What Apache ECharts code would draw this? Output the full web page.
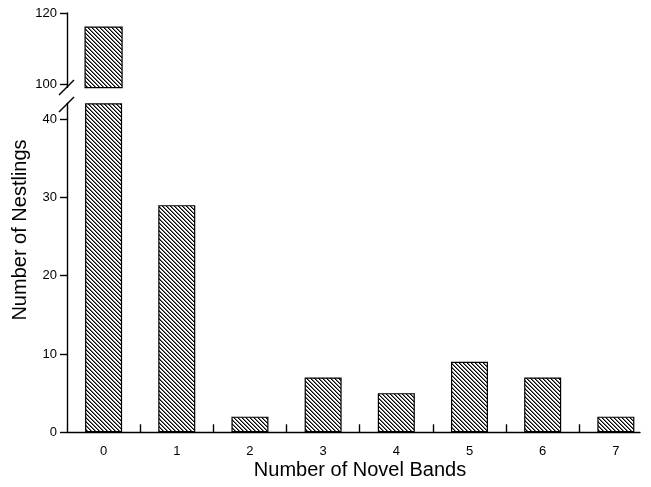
<!DOCTYPE html>
<html><head><meta charset="utf-8">
<script src="https://cdn.jsdelivr.net/npm/echarts@6/dist/echarts.min.js"></script>
<style>html,body{margin:0;padding:0;background:#fff}#c{width:651px;height:487px}</style>
</head><body><div id="c"></div>
<script>
const categories = ['0', '1', '2', '3', '4', '5', '6', '7'];
const nestlings = [116, 29, 2, 7, 5, 9, 7, 2];
const lowerTicks = [0, 10, 20, 30, 40];
const upperTicks = [100, 120];
const xTitle = 'Number of Novel Bands';
const yTitle = 'Number of Nestlings';

const breakLow = 42;   // top of lower axis segment
const breakHigh = 99;  // bottom of upper axis segment

const FONT = '"Liberation Sans", Arial, sans-serif';

// hatch pattern "\\\\"
const pc = document.createElement('canvas');
pc.width = 4; pc.height = 4;
const g = pc.getContext('2d');
g.fillStyle = '#fff'; g.fillRect(0, 0, 4, 4);
for (let i = 0; i < 4; i++) {
  g.fillStyle = '#000'; g.fillRect(i, i, 1, 1);
  g.fillStyle = '#777'; g.fillRect((i + 1) % 4, i, 1, 1);
}
const hatch = { image: pc, repeat: 'repeat' };

const xIdx = categories.map((c, i) => i);
const lowerData = nestlings.map((v, i) => [i, Math.min(v, breakLow)]);
const upperData = nestlings.map((v, i) => [i, v]).filter(d => d[1] > breakLow);
const betweenTicks = xIdx.slice(0, -1).map(i => i + 0.5);
const BAR_W = 37;

const barStyle = { color: hatch, borderColor: '#000', borderWidth: 1.2 };
const xCommon = {
  type: 'value', min: -0.5, max: 7.33,
  splitLine: { show: false }
};
const yCommon = {
  type: 'value',
  splitLine: { show: false },
  axisLine: { show: true, onZero: false, lineStyle: { color: '#000', width: 1.4 } },
  axisTick: { show: true, length: 7, lineStyle: { color: '#000', width: 1.4 } },
  axisLabel: { color: '#000', fontSize: 13, fontFamily: FONT, margin: 10 }
};

const chart = echarts.init(document.getElementById('c'), null, { renderer: 'canvas' });
chart.setOption({
  animation: false,
  backgroundColor: '#fff',
  grid: [
    { left: 67, right: 11, top: 103.3, bottom: 54.7 },
    { left: 67, right: 11, top: 13, bottom: 399.4 }
  ],
  xAxis: [
    Object.assign({}, xCommon, {
      gridIndex: 0,
      axisLine: { show: true, onZero: false, lineStyle: { color: '#000', width: 1.4 } },
      axisTick: { show: true, inside: true, length: 8, customValues: betweenTicks, lineStyle: { color: '#000', width: 1.4 } },
      axisLabel: { show: true, customValues: xIdx, formatter: v => categories[Math.round(v)], color: '#000', fontSize: 13, fontFamily: FONT, margin: 13 }
    }),
    Object.assign({}, xCommon, {
      gridIndex: 1, show: false
    })
  ],
  yAxis: [
    Object.assign({}, yCommon, {
      gridIndex: 0, min: 0, max: breakLow,
      axisTick: Object.assign({}, yCommon.axisTick, { customValues: lowerTicks }),
      axisLabel: Object.assign({}, yCommon.axisLabel, { customValues: lowerTicks })
    }),
    Object.assign({}, yCommon, {
      gridIndex: 1, min: breakHigh, max: 120,
      axisTick: Object.assign({}, yCommon.axisTick, { customValues: upperTicks }),
      axisLabel: Object.assign({}, yCommon.axisLabel, { customValues: upperTicks })
    })
  ],
  series: [
    { type: 'bar', xAxisIndex: 0, yAxisIndex: 0, data: lowerData, barWidth: BAR_W, clip: false, itemStyle: barStyle },
    {
      type: 'custom', xAxisIndex: 1, yAxisIndex: 1, data: upperData, clip: false,
      renderItem: function (params, api) {
        const x = api.value(0), v = api.value(1);
        const top = api.coord([x, v]);
        const bot = api.coord([x, breakHigh]);
        return {
          type: 'rect',
          shape: { x: top[0] - BAR_W / 2, y: top[1], width: BAR_W, height: bot[1] - top[1] },
          style: { fill: hatch, stroke: '#000', lineWidth: 1.2 }
        };
      }
    }
  ],
  graphic: [
    { type: 'rect', shape: { x: 62, y: 88, width: 9, height: 14 }, style: { fill: '#fff' }, z: 5 },
    { type: 'line', shape: { x1: 59, y1: 95, x2: 74, y2: 80 }, style: { stroke: '#000', lineWidth: 1.4 }, z: 6 },
    { type: 'line', shape: { x1: 59, y1: 112, x2: 74, y2: 97 }, style: { stroke: '#000', lineWidth: 1.4 }, z: 6 },
    { type: 'text', x: 360, y: 470, style: { text: xTitle, fill: '#000', font: '20px ' + FONT, textAlign: 'center', textVerticalAlign: 'middle' } },
    { type: 'text', x: 20, y: 230, rotation: Math.PI / 2, style: { text: yTitle, fill: '#000', font: '20px ' + FONT, textAlign: 'center', textVerticalAlign: 'middle' } }
  ]
});
</script></body></html>
